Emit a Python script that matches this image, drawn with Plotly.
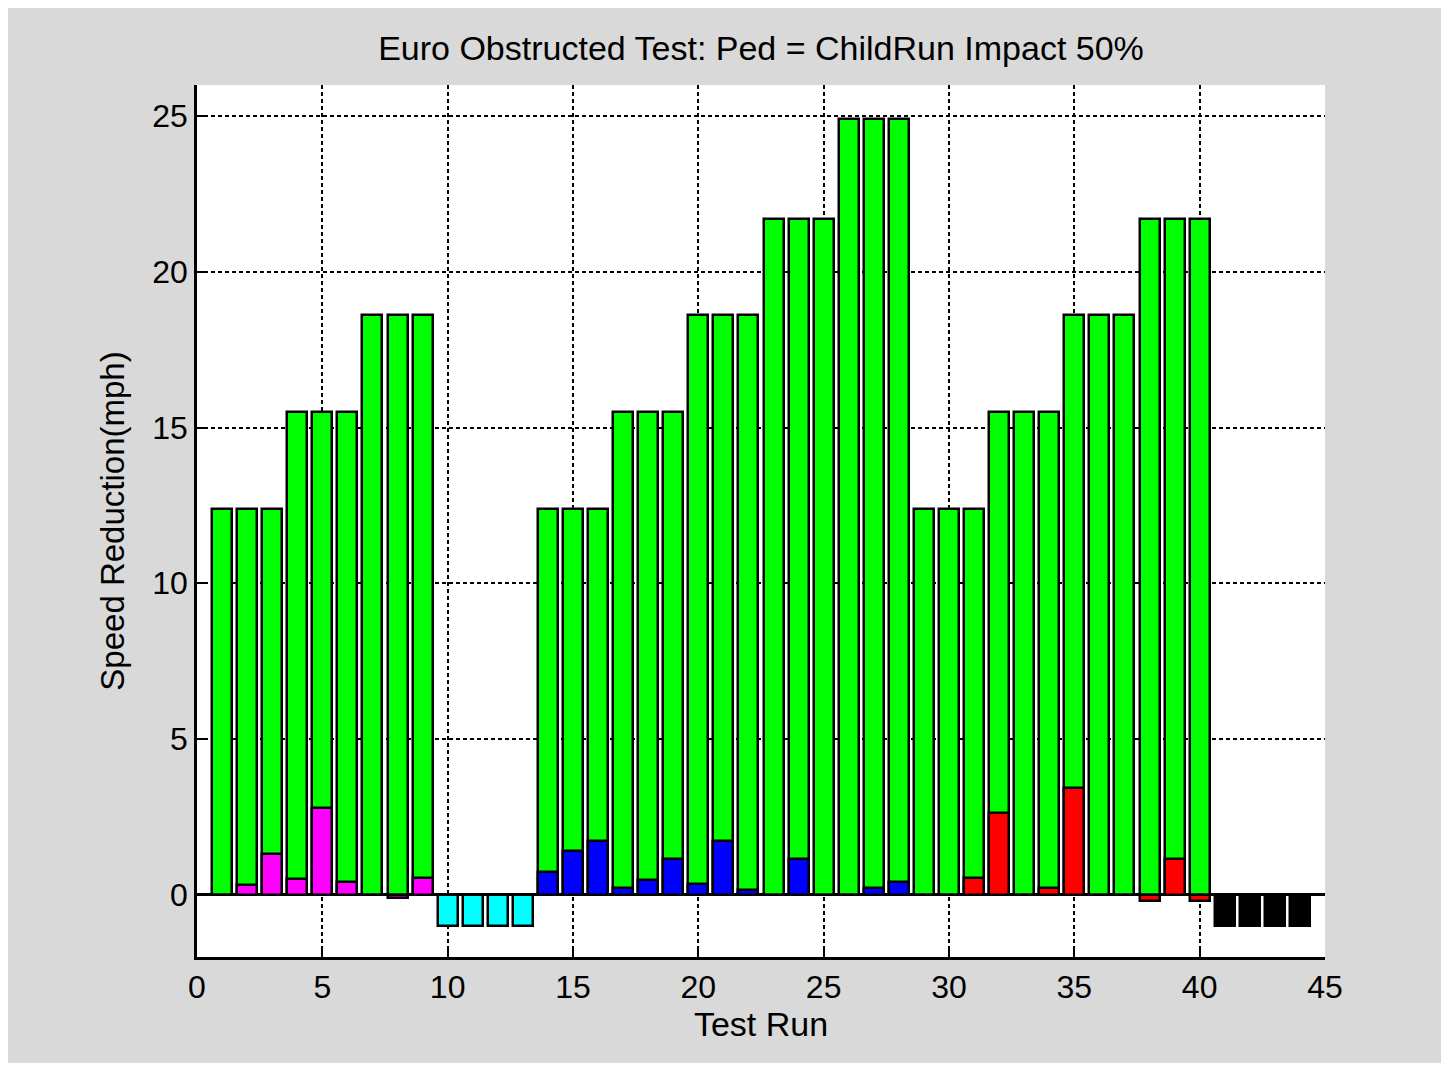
import plotly.graph_objects as go

# ---- data ----
runs = list(range(1, 45))
speed_reduction = [12.4, 12.4, 12.4, 15.5, 15.5, 15.5, 18.6, 18.6, 18.6,
                   None, None, None, None,
                   12.4, 12.4, 12.4, 15.5, 15.5, 15.5, 18.6, 18.6, 18.6,
                   21.7, 21.7, 21.7, 24.9, 24.9, 24.9,
                   12.4, 12.4, 12.4, 15.5, 15.5, 15.5, 18.6, 18.6, 18.6,
                   21.7, 21.7, 21.7,
                   None, None, None, None]
impact_speed = [0.0, 0.32, 1.31, 0.49, 2.79, 0.41, 0.0, -0.12, 0.55,
                -1.0, -1.0, -1.0, -1.0,
                0.72, 1.39, 1.71, 0.23, 0.47, 1.14, 0.33, 1.71, 0.15,
                0.0, 1.14, 0.0, 0.0, 0.23, 0.40,
                0.0, 0.0, 0.55, 2.61, 0.0, 0.2, 3.43, 0.0, 0.0,
                -0.2, 1.14, -0.2,
                -1.0, -1.0, -1.0, -1.0]
groups = ["A"] * 9 + ["B"] * 4 + ["C"] * 15 + ["D"] * 12 + ["E"] * 4
group_colors = {"A": "#ff00ff", "B": "#00ffff", "C": "#0000ff", "D": "#ff0000", "E": "#000000"}

title_text = "Euro Obstructed Test: Ped = ChildRun Impact 50%"
x_label = "Test Run"
y_label = "Speed Reduction(mph)"
x_ticks = [0, 5, 10, 15, 20, 25, 30, 35, 40, 45]
y_ticks = [0, 5, 10, 15, 20, 25]

FONT = "Liberation Sans, Arial, sans-serif"
W, H = 1433, 1055

fig = go.Figure()
fig.add_trace(go.Bar(
    x=runs, y=speed_reduction, width=0.8,
    marker=dict(color="#00ff00", line=dict(color="black", width=2.5)),
    showlegend=False, hoverinfo="x+y"))
fig.add_trace(go.Bar(
    x=runs, y=impact_speed, width=0.8,
    marker=dict(color=[group_colors[g] for g in groups], line=dict(color="black", width=2.5)),
    showlegend=False, hoverinfo="x+y"))

axis_common = dict(
    showline=True, linecolor="black", linewidth=2.5, mirror=False,
    ticks="inside", ticklen=11, tickwidth=2, tickcolor="black",
    showgrid=True, gridcolor="black", gridwidth=2, griddash="4px,3px",
    tickfont=dict(family=FONT, size=32, color="black"),
    automargin=True,
)

fig.update_layout(
    width=W, height=H,
    barmode="overlay",
    bargap=0,
    paper_bgcolor="#d9d9d9",
    plot_bgcolor="white",
    margin=dict(l=189, r=116, t=77, b=106, autoexpand=False),
    font=dict(family=FONT, size=32, color="black"),
    title=dict(text=title_text, x=0.5, xref="paper", xanchor="center",
               y=1 - 40 / H, yref="container", yanchor="middle",
               font=dict(family=FONT, size=34, color="black")),
    xaxis=dict(range=[0, 45], tickvals=x_ticks, zeroline=False,
               title=dict(text=x_label, font=dict(family=FONT, size=34, color="black"), standoff=9),
               **axis_common),
    yaxis=dict(range=[-2, 26], tickvals=y_ticks, zeroline=True, zerolinecolor="black",
               zerolinewidth=2.5,
               title=dict(text=y_label, font=dict(family=FONT, size=33, color="black"), standoff=18),
               **axis_common),
)

fig.write_html("out.html")
